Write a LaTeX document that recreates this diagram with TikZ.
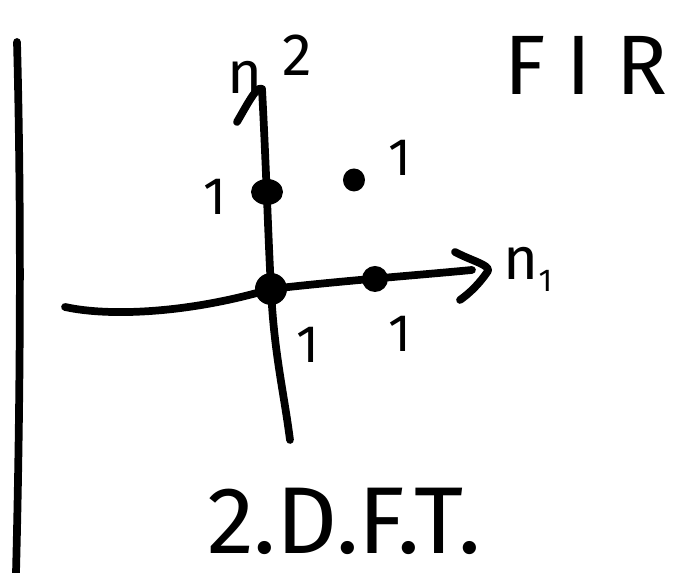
\documentclass[tikz,border=0pt]{standalone}
\usepackage{fontspec}
\setmainfont{Fira Sans}
\begin{document}
\begin{tikzpicture}[
  pen/.style={line width=2.2pt, line cap=round, line join=round},
  one/.style={font=\fontsize{15}{17}\selectfont},
  axlbl/.style={font=\fontsize{17}{19}\selectfont},
  big/.style={font=\fontsize{24}{28}\selectfont}]
  \useasboundingbox (0,0) rectangle (6.77,5.73);

  % Left border
  \coordinate (Ltop) at (0.17,5.31);
  \coordinate (Lbot) at (0.16,0);
  \draw[pen] (Ltop) .. controls (0.21,3.8) and (0.21,2.0) .. (Lbot);

  % Axes
  \coordinate (O) at (2.71,2.84);
  \coordinate (Vtop) at (2.62,4.84);
  \coordinate (Vtail) at (2.37,4.51);
  \coordinate (Vbot) at (2.90,1.33);
  \coordinate (Hleft) at (0.65,2.66);
  \coordinate (Hright) at (4.72,3.03);
  \coordinate (Hup) at (4.55,3.21);
  \coordinate (Htip) at (4.88,3.02);
  \coordinate (Hdown) at (4.60,2.73);
  \draw[pen] (Vtop) .. controls (2.66,4.1) and (2.68,3.4) .. (O)
    .. controls (2.74,2.2) and (2.84,1.8) .. (Vbot);
  \draw[pen] (Vtail) .. controls (2.47,4.68) and (2.57,4.88) .. (Vtop);
  \draw[pen] (Hleft) .. controls (1.10,2.56) and (1.90,2.60) .. (O)
    .. controls (3.40,2.92) and (4.20,2.98) .. (Hright);
  \draw[pen] (Hup) .. controls (4.72,3.12) and (4.90,3.08) .. (Htip)
    .. controls (4.80,2.90) and (4.70,2.80) .. (Hdown);
  \node[axlbl] (n2) at (2.70,5.09) {n\hspace{0.2cm}\raisebox{0.3em}{2}};
  \node[axlbl] (n1) at (5.28,3.04) {n\raisebox{-0.2em}{\small 1}};

  % Samples
  \fill (O) circle (0.16);
  \fill (2.67,3.81) coordinate (P01) ellipse (0.16 and 0.13);
  \fill (3.75,2.94) coordinate (P10) circle (0.13);
  \fill (3.54,3.93) coordinate (P11) ellipse (0.11 and 0.115);

  % Values
  \node[one] (v01) at (2.15,3.76) {1};
  \node[one] (v11) at (4.00,4.15) {1};
  \node[one] (v00) at (3.08,2.28) {1};
  \node[one] (v10) at (4.00,2.39) {1};

  % Titles
  \node[big] (fir) at (5.86,5.08) {F\hspace{0.25em}I\hspace{0.3em}R};
  \node[big, font=\fontsize{27}{30}\selectfont] (dft) at (3.44,0.52) {2.D.F.T.};
\end{tikzpicture}
\end{document}
